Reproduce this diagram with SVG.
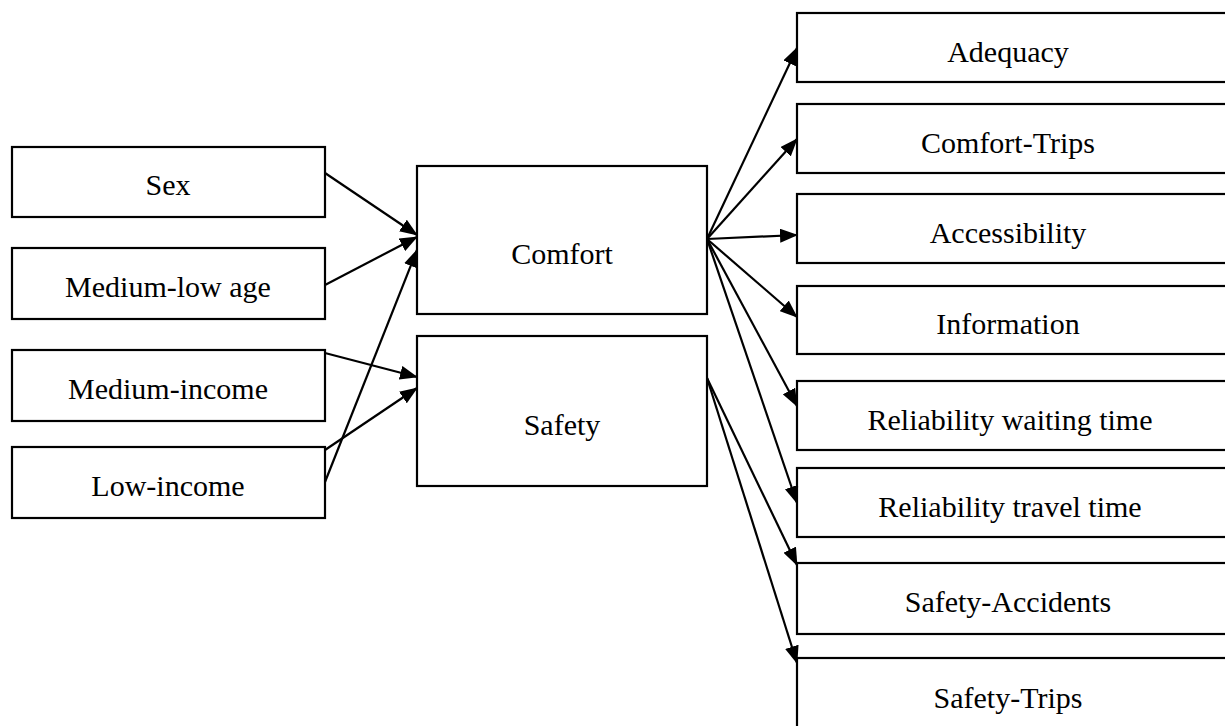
<svg xmlns="http://www.w3.org/2000/svg" width="1225" height="726" viewBox="0 0 1225 726">
<style>
.n rect{fill:#fff;stroke:#000;stroke-width:2.2}
text{font-family:"Liberation Serif","Times New Roman",serif;font-size:30px;fill:#000;text-anchor:middle}
.c line{stroke:#000;stroke-width:2.2;marker-end:url(#ah)}
</style>
<defs>
<marker id="ah" markerUnits="userSpaceOnUse" markerWidth="18" markerHeight="14" refX="17" refY="7" orient="auto">
<path d="M0,0 L18,7 L0,14 Z" fill="#000"/>
</marker>
</defs>
<rect width="1225" height="726" fill="#fff"/>
<g id="sex" class="n"><rect x="12" y="147" width="313" height="70"/><text x="168" y="195">Sex</text></g>
<g id="medium-low-age" class="n"><rect x="12" y="248" width="313" height="71"/><text x="168" y="297">Medium-low age</text></g>
<g id="medium-income" class="n"><rect x="12" y="350" width="313" height="71"/><text x="168" y="399">Medium-income</text></g>
<g id="low-income" class="n"><rect x="12" y="447" width="313" height="71"/><text x="168" y="496">Low-income</text></g>
<g id="comfort" class="n"><rect x="417" y="166" width="290" height="148"/><text x="562" y="264">Comfort</text></g>
<g id="safety" class="n"><rect x="417" y="336" width="290" height="150"/><text x="562" y="435">Safety</text></g>
<g id="adequacy" class="n"><rect x="797" y="13" width="440" height="69"/><text x="1008" y="62">Adequacy</text></g>
<g id="comfort-trips" class="n"><rect x="797" y="104" width="440" height="69"/><text x="1008" y="153">Comfort-Trips</text></g>
<g id="accessibility" class="n"><rect x="797" y="194" width="440" height="69"/><text x="1008" y="243">Accessibility</text></g>
<g id="information" class="n"><rect x="797" y="286" width="440" height="68"/><text x="1008" y="334">Information</text></g>
<g id="reliability-waiting-time" class="n"><rect x="797" y="381" width="440" height="69"/><text x="1010" y="430">Reliability waiting time</text></g>
<g id="reliability-travel-time" class="n"><rect x="797" y="468" width="440" height="69"/><text x="1010" y="517">Reliability travel time</text></g>
<g id="safety-accidents" class="n"><rect x="797" y="563" width="440" height="71"/><text x="1008" y="612">Safety-Accidents</text></g>
<g id="safety-trips" class="n"><rect x="797" y="658" width="440" height="90"/><text x="1008" y="708">Safety-Trips</text></g>
<g id="connectors" class="c">
<line x1="325" y1="173" x2="417" y2="235"/>
<line x1="325" y1="285" x2="417" y2="237"/>
<line x1="325" y1="482" x2="417" y2="250"/>
<line x1="325" y1="353" x2="417" y2="377"/>
<line x1="325" y1="450" x2="417" y2="388"/>
<line x1="707" y1="239" x2="797" y2="48"/>
<line x1="707" y1="239" x2="797" y2="139"/>
<line x1="707" y1="239" x2="797" y2="235"/>
<line x1="707" y1="239" x2="797" y2="317"/>
<line x1="707" y1="239" x2="797" y2="406"/>
<line x1="707" y1="239" x2="797" y2="503"/>
<line x1="707" y1="378" x2="797" y2="565"/>
<line x1="707" y1="378" x2="797" y2="663"/>
</g>
</svg>
